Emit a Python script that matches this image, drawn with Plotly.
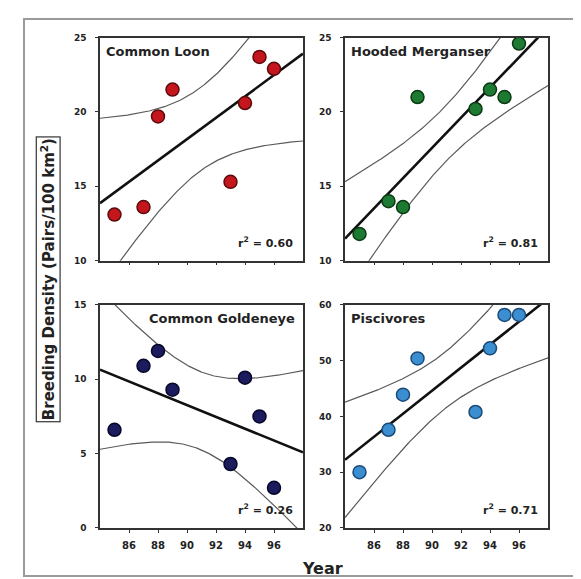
"""Breeding density trends of piscivorous waterbirds, 4 panels with regression and 95% bands."""

import numpy as np
import plotly.graph_objects as go

W, H = 581, 579

years = [85, 87, 88, 89, 93, 94, 95, 96]

loon = [13.1, 13.6, 19.7, 21.5, 15.3, 20.6, 23.7, 22.9]
merganser = [11.8, 14.0, 13.6, 21.0, 20.2, 21.5, 21.0, 24.6]
goldeneye = [6.6, 10.9, 11.9, 9.3, 4.3, 10.1, 7.5, 2.7]
piscivores = [30.0, 37.6, 43.9, 50.4, 40.8, 52.2, 58.2, 58.2]

panel_names = ["Common Loon", "Hooded Merganser", "Common Goldeneye", "Piscivores"]
r2_labels = ["0.60", "0.81", "0.26", "0.71"]
x_ticks = [86, 88, 90, 92, 94, 96]
y_ticks = [[10, 15, 20, 25], [10, 15, 20, 25], [0, 5, 10, 15], [20, 30, 40, 50, 60]]
y_ranges = [[10, 25], [10, 25], [0, 15], [20, 60]]

fill_colors = ["#c4161c", "#1d7a32", "#1b1b5e", "#3b8fd0"]
edge_colors = ["#5a0a0c", "#0b3a14", "#07072a", "#1a4a78"]

T_CRIT = 2.447  # t(0.975, df=6)
WIDE = "DejaVu Sans, Liberation Sans, sans-serif"


def px_x(p):
    return p / W


def px_y(p):
    return 1 - p / H


# panel domains in pixels: (x0, x1, ytop, ybottom)
boxes = [
    (92, 295, 25, 252),
    (337, 540, 25, 252),
    (92, 295, 297, 524),
    (337, 540, 297, 524),
]


def fit_band(x, y, grid):
    x = np.asarray(x, float)
    y = np.asarray(y, float)
    n = len(x)
    b, a = np.polyfit(x, y, 1)
    resid = y - (a + b * x)
    s = np.sqrt(np.sum(resid ** 2) / (n - 2))
    sxx = np.sum((x - x.mean()) ** 2)
    yhat = a + b * grid
    hw = T_CRIT * s * np.sqrt(1 / n + (grid - x.mean()) ** 2 / sxx)
    return yhat, yhat - hw, yhat + hw


fig = go.Figure()
grid = np.linspace(84, 98, 200)
series = [loon, merganser, goldeneye, piscivores]

layout_axes = {}
annotations = []
for i, vals in enumerate(series):
    k = "" if i == 0 else str(i + 1)
    xa, ya = "x" + k, "y" + k
    yhat, lo, hi = fit_band(years, vals, grid)
    for band in (lo, hi):
        fig.add_trace(go.Scatter(x=grid, y=band, mode="lines", xaxis=xa, yaxis=ya,
                                 line=dict(color="#5a5a5a", width=1.2), hoverinfo="skip"))
    fig.add_trace(go.Scatter(x=grid, y=yhat, mode="lines", xaxis=xa, yaxis=ya,
                             line=dict(color="#111111", width=2.6), hoverinfo="skip"))
    fig.add_trace(go.Scatter(x=years, y=vals, mode="markers", xaxis=xa, yaxis=ya,
                             marker=dict(size=13, color=fill_colors[i],
                                         line=dict(color=edge_colors[i], width=1.5))))

    x0, x1, yt, yb = boxes[i]
    bottom = i >= 2
    layout_axes["xaxis" + k] = dict(
        domain=[px_x(x0), px_x(x1)], anchor=ya, range=[84, 98],
        tickvals=x_ticks, showticklabels=bottom,
        ticks="outside", ticklen=3, tickcolor="#333", ticklabelstandoff=4,
        showline=True, linecolor="#333", linewidth=1.5, mirror=True,
        showgrid=False, zeroline=False,
        tickfont=dict(family=WIDE, size=10, color="#222", weight="bold"),
    )
    layout_axes["yaxis" + k] = dict(
        domain=[px_y(yb), px_y(yt)], anchor=xa, range=y_ranges[i],
        tickvals=y_ticks[i], ticks="outside", ticklen=3, tickcolor="#333",
        ticklabelstandoff=7,
        showline=True, linecolor="#333", linewidth=1.5, mirror=True,
        showgrid=False, zeroline=False,
        tickfont=dict(family=WIDE, size=9, color="#222", weight="bold"),
    )

    right_title = i == 2
    annotations.append(dict(
        text=panel_names[i], xref=xa + " domain", yref=ya + " domain",
        x=0.97 if right_title else 0.02, y=0.98,
        xanchor="right" if right_title else "left", yanchor="top",
        showarrow=False, font=dict(family=WIDE, size=13, color="#222", weight="bold"),
    ))
    annotations.append(dict(
        text=f"r<sup>2</sup> = {r2_labels[i]}", xref=xa + " domain", yref=ya + " domain",
        x=0.96, y=0.04, xanchor="right", yanchor="bottom",
        showarrow=False, font=dict(family=WIDE, size=11, color="#222", weight="bold"),
    ))

annotations.append(dict(
    text="Year", xref="paper", yref="paper", x=px_x(314), y=px_y(565),
    xanchor="center", yanchor="middle", showarrow=False,
    font=dict(family=WIDE, size=16, color="#222", weight="bold"),
))
annotations.append(dict(
    text="Breeding Density (Pairs/100 km<sup>2</sup>)", xref="paper", yref="paper",
    x=px_x(40), y=px_y(271), xanchor="center", yanchor="middle", textangle=-90,
    showarrow=False, bordercolor="#333", borderwidth=1.2, borderpad=1,
    font=dict(family=WIDE, size=15, color="#222", weight="bold"),
))

fig.update_layout(
    width=W, height=H,
    margin=dict(l=0, r=0, t=0, b=0),
    paper_bgcolor="white", plot_bgcolor="white",
    showlegend=False,
    annotations=annotations,
    shapes=[dict(type="rect", xref="paper", yref="paper",
                 x0=px_x(16), x1=px_x(578), y0=px_y(573), y1=px_y(6),
                 line=dict(color="#9a9a9a", width=2))],
    **layout_axes,
)

fig.write_html("out.html")
